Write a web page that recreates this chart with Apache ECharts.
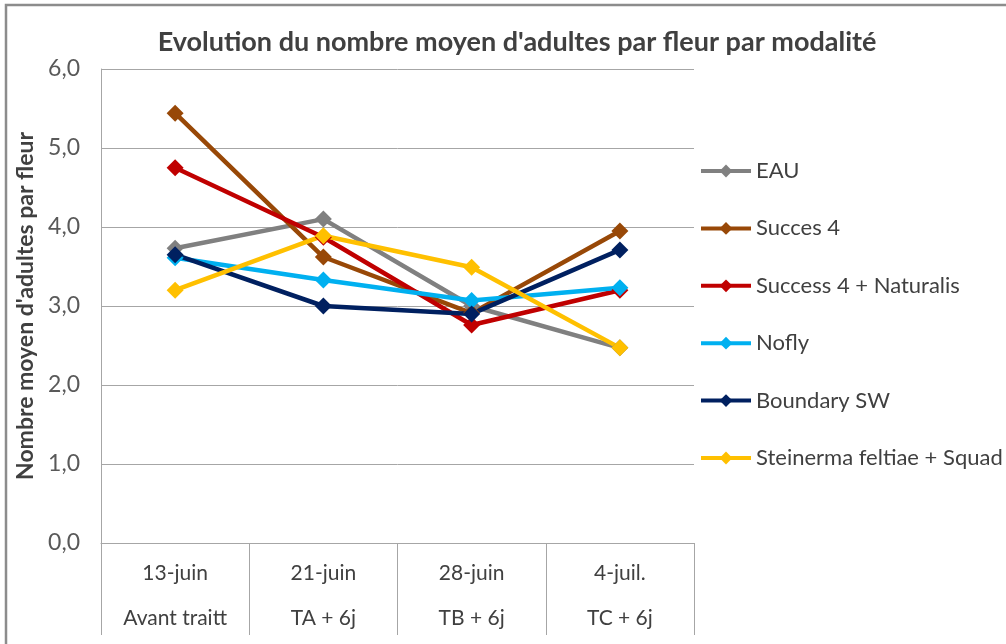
<!DOCTYPE html>
<html>
<head>
<meta charset="utf-8">
<script src="https://cdn.jsdelivr.net/npm/echarts@6/dist/echarts.min.js"></script>
<style>
  html, body { margin: 0; padding: 0; background: #fff; }
  #chart { width: 1006px; height: 644px; }
</style>
</head>
<body>
<div id="chart"></div>
<script>
// categories (two rows of labels)
var dates = ['13-juin', '21-juin', '28-juin', '4-juil.'];
var stades = ['Avant traitt', 'TA + 6j', 'TB + 6j', 'TC + 6j'];

// series values
var eau = [3.73, 4.10, 3.00, 2.47];
var succes4 = [5.44, 3.62, 2.91, 3.95];
var success4Naturalis = [4.75, 3.87, 2.76, 3.20];
var nofly = [3.61, 3.33, 3.07, 3.23];
var boundarySW = [3.65, 3.00, 2.90, 3.71];
var steinerma = [3.20, 3.89, 3.49, 2.47];

var yTicks = [0, 1, 2, 3, 4, 5, 6];

var font = 'Lato';
var txtColor = '#404040';
var gridColor = '#a6a6a6';

function makeSerie(name, data, color) {
    return {
        name: name,
        type: 'line',
        data: data,
        symbol: 'diamond',
        symbolSize: 17,
        lineStyle: { width: 4.5, color: color },
        itemStyle: { color: color },
        emphasis: { disabled: true }
    };
}

var myChart = echarts.init(document.getElementById('chart'));

var option = {
    animation: false,
    backgroundColor: '#fff',
    textStyle: { fontFamily: font },
    graphic: [{
        type: 'rect',
        shape: { x: 6, y: 5, width: 1020, height: 660 },
        style: { fill: 'none', stroke: '#8c8c8c', lineWidth: 2.5 },
        silent: true
    }],
    title: {
        text: "Evolution du nombre moyen d'adultes par fleur par modalité",
        left: 512,
        textAlign: 'center',
        top: 24,
        textStyle: { fontFamily: font, fontSize: 27, fontWeight: 'bold', color: txtColor }
    },
    legend: {
        orient: 'vertical',
        left: 699,
        top: 159,
        padding: 0,
        itemWidth: 50,
        itemHeight: 16,
        itemGap: 33.4,
        lineStyle: { width: 4 },
        textStyle: { fontFamily: font, fontSize: 22, color: txtColor, lineHeight: 24 },
        data: ['EAU', 'Succes 4', 'Success 4 + Naturalis', 'Nofly', 'Boundary SW', 'Steinerma feltiae + Squad']
    },
    grid: { left: 101, right: 312, top: 69, bottom: 101, containLabel: false },
    xAxis: [{
        type: 'category',
        data: dates,
        boundaryGap: true,
        axisLine: { lineStyle: { color: gridColor, width: 1 } },
        axisTick: { show: true, interval: 0, length: 92, lineStyle: { color: gridColor } },
        axisLabel: { margin: 20, fontSize: 21, color: txtColor, fontFamily: font }
    }, {
        type: 'category',
        data: stades,
        position: 'bottom',
        boundaryGap: true,
        axisLine: { show: false },
        axisTick: { show: false },
        axisLabel: { margin: 65, fontSize: 21, color: txtColor, fontFamily: font }
    }],
    yAxis: {
        type: 'value',
        min: yTicks[0],
        max: yTicks[yTicks.length - 1],
        interval: 1,
        name: "Nombre moyen d'adultes par fleur",
        nameLocation: 'middle',
        nameRotate: 90,
        nameGap: 54,
        nameTextStyle: { fontFamily: font, fontSize: 23, fontWeight: 'bold', color: txtColor },
        axisLine: { show: true, lineStyle: { color: gridColor } },
        axisTick: { show: false },
        splitLine: { lineStyle: { color: gridColor, width: 1 } },
        axisLabel: {
            margin: 21,
            fontSize: 23,
            color: '#595959',
            fontFamily: font,
            formatter: function(v) { return v.toFixed(1).replace('.', ','); }
        }
    },
    series: [
        makeSerie('EAU', eau, '#808080'),
        makeSerie('Succes 4', succes4, '#984807'),
        makeSerie('Success 4 + Naturalis', success4Naturalis, '#c00000'),
        makeSerie('Nofly', nofly, '#00b0f0'),
        makeSerie('Boundary SW', boundarySW, '#002060'),
        makeSerie('Steinerma feltiae + Squad', steinerma, '#ffc000')
    ]
};

myChart.setOption(option);
</script>
</body>
</html>
